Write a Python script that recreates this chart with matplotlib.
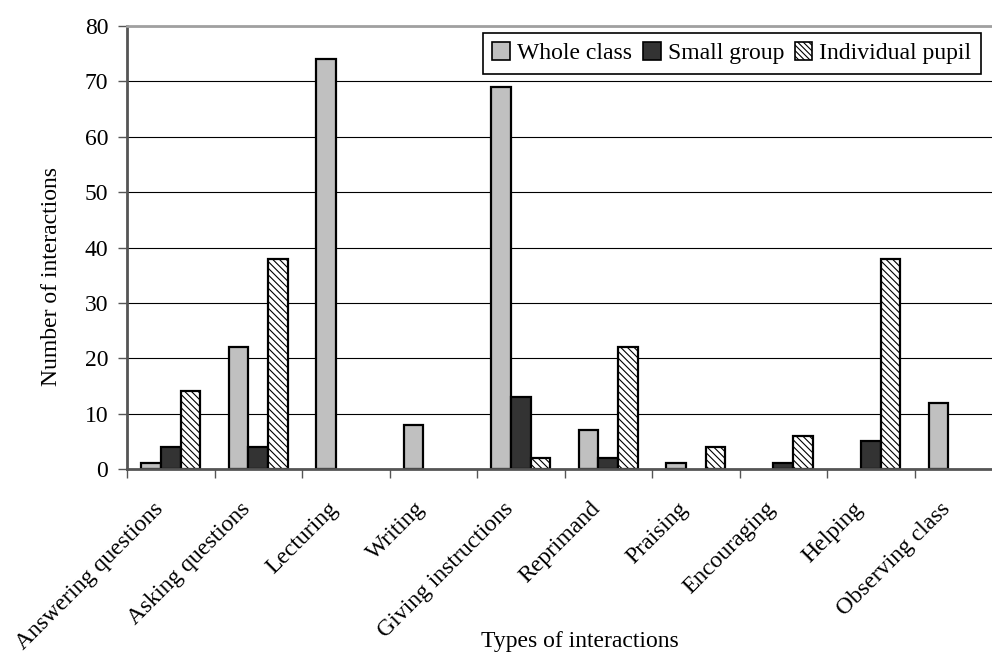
import numpy as np
import matplotlib
matplotlib.use("Agg")
import matplotlib.pyplot as plt
from matplotlib.patches import Patch

# Data
categories = ["Answering questions", "Asking questions", "Lecturing", "Writing",
              "Giving instructions", "Reprimand", "Praising", "Encouraging",
              "Helping", "Observing class"]
whole_class = [1, 22, 74, 8, 69, 7, 1, 0, 0, 12]
small_group = [4, 4, 0, 0, 13, 2, 0, 1, 5, 0]
individual_pupil = [14, 38, 0, 0, 2, 22, 4, 6, 38, 0]

plt.rcParams['font.family'] = ['Liberation Serif', 'DejaVu Serif']
plt.rcParams['hatch.linewidth'] = 0.8
plt.rcParams['hatch.color'] = '#222222'
FS = 17

fig = plt.figure(figsize=(9.92, 6.53), dpi=100)
ax = fig.add_axes([127 / 992, 1 - 469 / 653, 875 / 992, 443 / 653])

x = np.arange(len(categories))
w = 0.225
ax.set_axisbelow(True)
ax.yaxis.grid(True, color='black', linewidth=0.8)

# skip zero-height bars, Excel draws nothing for them
def draw(vals, offset, **kw):
    for xi, v in zip(x, vals):
        if v > 0:
            ax.bar(xi + offset, v, w, linewidth=1.6, edgecolor='black', **kw)

draw(whole_class, -w, color='#C0C0C0')
draw(small_group, 0, color='#333333')
draw(individual_pupil, w, color='white', hatch='\\\\\\\\\\')

ax.set_xlim(-0.5, len(categories) - 0.5)
ax.set_ylim(0, 80)
ax.set_yticks(range(0, 81, 10))
ax.tick_params(axis='y', direction='out', length=6.5, width=1, labelsize=FS, pad=7,
               color='#555555')

# labels sit a little left of the category centre, like Excel does
ax.set_xticks(x - 0.21)
ax.set_xticklabels(categories, rotation=45, ha='right', rotation_mode='anchor', fontsize=FS)
ax.set_xticks(np.arange(-0.5, len(categories), 1), minor=True)
ax.tick_params(axis='x', which='major', length=0, pad=21)
ax.tick_params(axis='x', which='minor', direction='out', length=6.5, width=1, color='#555555')

for s in ['left', 'bottom']:
    ax.spines[s].set_color('#555555')
    ax.spines[s].set_linewidth(2)
ax.spines['top'].set_color('#A0A0A0')
ax.spines['top'].set_linewidth(2)
ax.spines['right'].set_visible(False)

fig.text(52 / 992, 1 - 277 / 653, "Number of interactions", fontsize=FS,
         rotation=90, ha='center', va='center')
fig.text(580 / 992, 1 - 641 / 653, "Types of interactions", fontsize=FS,
         ha='center', va='center')

handles = [Patch(facecolor='#C0C0C0', edgecolor='black', linewidth=1.2),
           Patch(facecolor='#333333', edgecolor='black', linewidth=1.2),
           Patch(facecolor='white', edgecolor='black', linewidth=1.2, hatch='\\\\\\\\\\\\')]
leg = ax.legend(handles, ["Whole class", "Small group", "Individual pupil"],
                loc='upper right', bbox_to_anchor=(981 / 992, 1 - 33 / 653),
                bbox_transform=fig.transFigure, ncol=3, fontsize=FS,
                handlelength=0.75, handleheight=0.75, handletextpad=0.3,
                columnspacing=0.45, borderpad=0.4, fancybox=False, framealpha=1,
                edgecolor='black', borderaxespad=0)
leg.get_frame().set_linewidth(1.2)

fig.savefig("out.png", dpi=100)
